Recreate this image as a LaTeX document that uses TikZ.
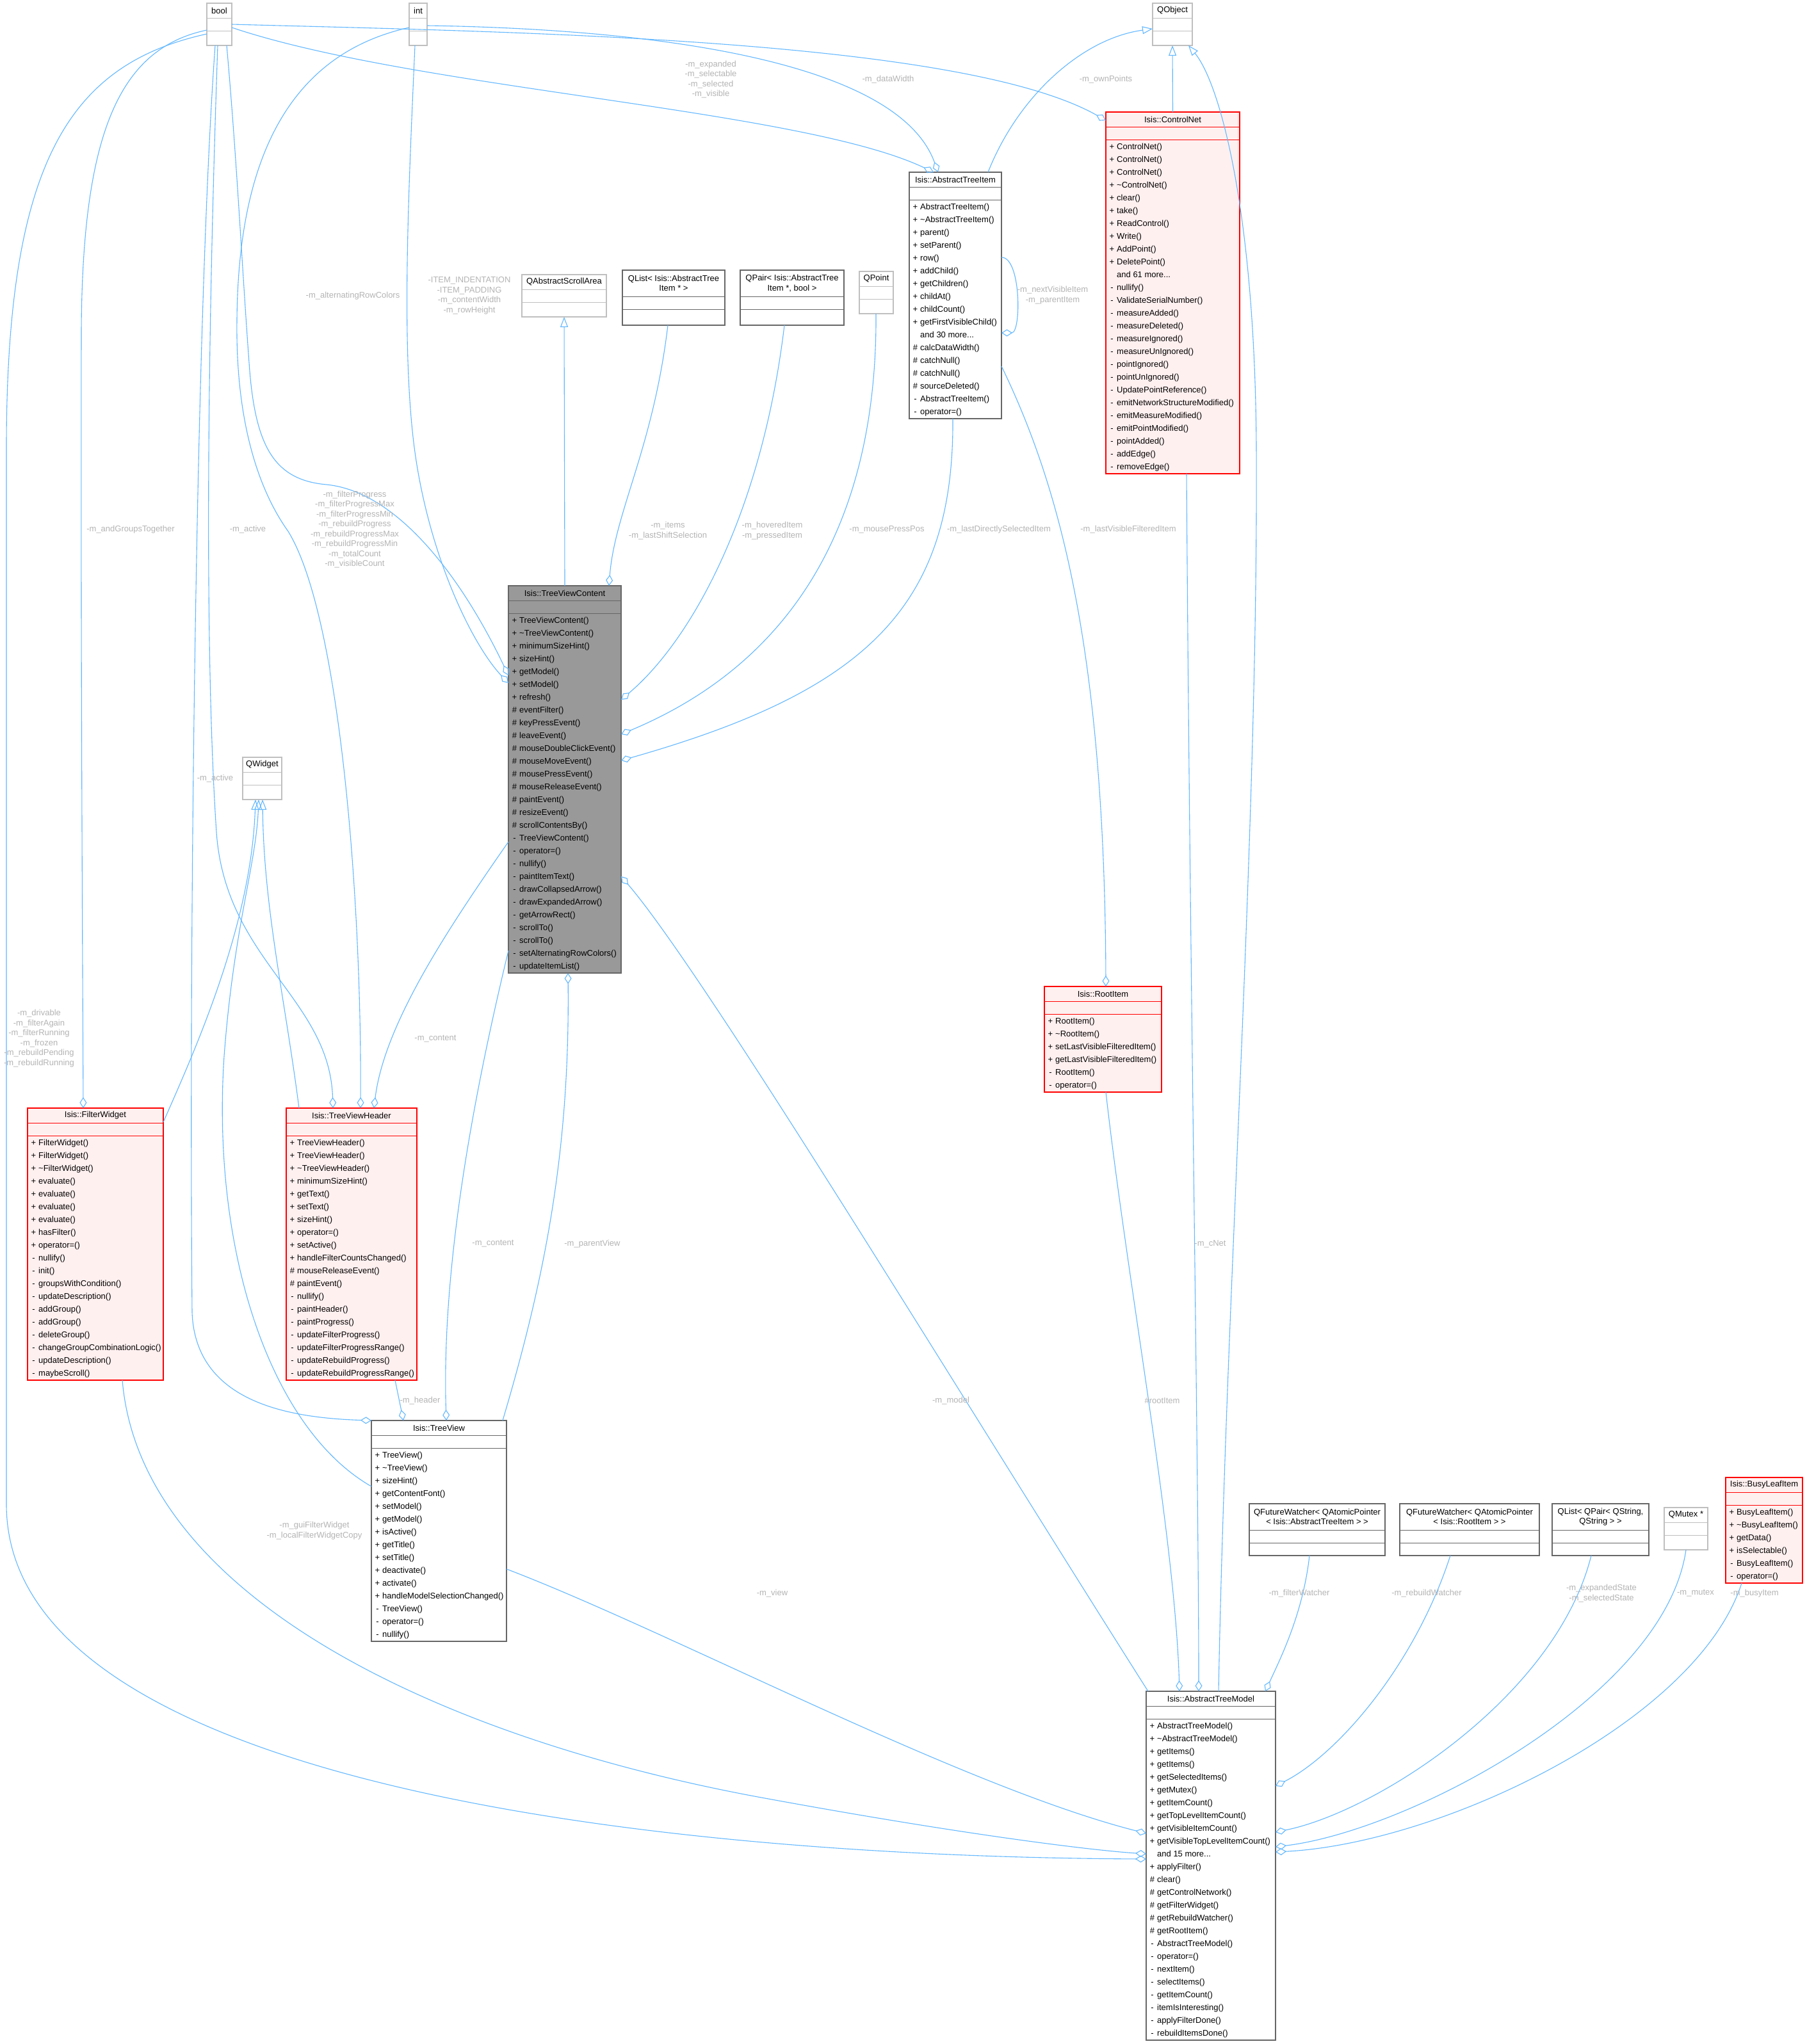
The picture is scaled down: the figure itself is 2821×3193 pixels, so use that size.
\documentclass[tikz,border=0pt]{standalone}
\usepackage{fontspec}
\setmainfont{Liberation Sans}
\usetikzlibrary{arrows.meta}
\definecolor{edgec}{HTML}{63B8FF}
\definecolor{labc}{HTML}{B4B4B4}
\definecolor{redb}{HTML}{FF0000}
\definecolor{redf}{HTML}{FFF0F0}
\definecolor{darkb}{HTML}{666666}
\definecolor{lightb}{HTML}{BFBFBF}
\definecolor{tvcf}{HTML}{999999}
\def\mydots{...}
\tikzset{
  boxbase/.style={line width=1.1pt, inner sep=0pt, outer sep=0pt},
  redbox/.style={boxbase, draw=redb, fill=redf},
  darkbox/.style={boxbase, draw=darkb, fill=white},
  lightbox/.style={boxbase, draw=lightb, fill=white},
  tvcbox/.style={boxbase, draw=darkb, fill=tvcf},
  ttl/.style={inner sep=0pt, align=center, font=\fontsize{13}{15.5}\selectfont},
  mem/.style={inner sep=0pt, anchor=base west, font=\fontsize{13}{20}\selectfont},
  lab/.style={inner sep=0pt, align=center, text=labc, font=\fontsize{13}{15.5}\selectfont},
  edge/.style={draw=edgec, line width=1.1pt},
  agg/.style={edge, -{Diamond[open, length=17pt, width=11pt]}},
  inh/.style={edge, -{Triangle[open, length=16pt, width=12pt]}},
}
% #1 name, #2 x, #3 y, #4 w, #5 h, #6 title height, #7 style, #8 sep colour, #9 title
\newcommand\classbox[9]{%
  \node[#7, minimum width=#4pt, minimum height=#5pt, anchor=north west] (#1) at (#2,#3) {};
  \node[ttl] (#1-t) at (#2+#4/2, #3+#6/2) {#9};
  \draw[draw=#8, line width=0.9pt] ([yshift=-#6pt]#1.north west) -- ([yshift=-#6pt]#1.north east);
  \draw[draw=#8, line width=0.9pt] ([yshift=-#6pt-20pt]#1.north west) -- ([yshift=-#6pt-20pt]#1.north east);
}
% #1 name, #2 x, #3 y, #4 title height, #5 list
\newcommand\members[5]{%
  \foreach \mp/\mn [count=\ri] in {#5} {%
    \node[mem] (#1-r\ri) at (#2+1.5, #3+#4+15.5+20*\ri) {\makebox[15.5pt][c]{\mp}\mn};
  }%
}
\begin{document}
\begin{tikzpicture}[x=1pt,y=-1pt]
\fill[white] (0,0) rectangle (2821,3193);
\useasboundingbox (0,0) rectangle (2821,3193);

% ---------- boxes ----------
\classbox{bool}{323}{5}{39}{66}{23}{lightbox}{lightb}{bool}
\classbox{int}{639}{5}{28}{66}{23}{lightbox}{lightb}{int}
\classbox{qobject}{1800}{5}{62}{66}{23}{lightbox}{lightb}{QObject}
\classbox{qwidget}{379}{1183}{61}{66}{23}{lightbox}{lightb}{QWidget}
\classbox{qasa}{815}{429}{132}{66}{23}{lightbox}{lightb}{QAbstractScrollArea}
\classbox{qlist}{972}{422}{160}{86}{41}{darkbox}{darkb}{QList< Isis::AbstractTree\\Item * >}
\classbox{qpair}{1156}{422}{162}{86}{41}{darkbox}{darkb}{QPair< Isis::AbstractTree\\Item *, bool >}
\classbox{qpoint}{1342}{424}{53}{66}{23}{lightbox}{lightb}{QPoint}
\classbox{ati}{1420}{269}{144}{385}{23}{darkbox}{darkb}{Isis::AbstractTreeItem}
\classbox{cnet}{1727}{175}{209}{565}{23}{redbox}{redb}{Isis::ControlNet}
\classbox{tvc}{794}{915}{176}{605}{23}{tvcbox}{darkb}{Isis::TreeViewContent}
\classbox{root}{1631}{1541}{183}{165}{23}{redbox}{redb}{Isis::RootItem}
\classbox{fw}{43}{1731}{212}{425}{23}{redbox}{redb}{Isis::FilterWidget}
\classbox{tvh}{447}{1731}{204}{425}{23}{redbox}{redb}{Isis::TreeViewHeader}
\classbox{tv}{580}{2219}{211}{345}{23}{darkbox}{darkb}{Isis::TreeView}
\classbox{atm}{1790}{2642}{202}{545}{23}{darkbox}{darkb}{Isis::AbstractTreeModel}
\classbox{qfwa}{1951}{2349}{212}{81}{41}{darkbox}{darkb}{QFutureWatcher< QAtomicPointer\\< Isis::AbstractTreeItem > >}
\classbox{qfwb}{2186}{2349}{218}{81}{41}{darkbox}{darkb}{QFutureWatcher< QAtomicPointer\\< Isis::RootItem > >}
\classbox{qlp}{2424}{2349}{151}{81}{41}{darkbox}{darkb}{QList< QPair< QString,\\QString > >}
\classbox{qmutex}{2599}{2355}{68}{66}{23}{lightbox}{lightb}{QMutex *}
\classbox{busy}{2695}{2308}{120}{165}{23}{redbox}{redb}{Isis::BusyLeafItem}

% ---------- members ----------
\members{ati}{1420}{269}{23}{+/AbstractTreeItem(), +/\textasciitilde AbstractTreeItem(), +/parent(), +/setParent(), +/row(), +/addChild(), +/getChildren(), +/childAt(), +/childCount(), +/getFirstVisibleChild(), \relax/and 30 more\mydots, \#/calcDataWidth(), \#/catchNull(), \#/catchNull(), \#/sourceDeleted(), -/AbstractTreeItem(), -/operator=()}
\members{cnet}{1727}{175}{23}{+/ControlNet(), +/ControlNet(), +/ControlNet(), +/\textasciitilde ControlNet(), +/clear(), +/take(), +/ReadControl(), +/Write(), +/AddPoint(), +/DeletePoint(), \relax/and 61 more\mydots, -/nullify(), -/ValidateSerialNumber(), -/measureAdded(), -/measureDeleted(), -/measureIgnored(), -/measureUnIgnored(), -/pointIgnored(), -/pointUnIgnored(), -/UpdatePointReference(), -/emitNetworkStructureModified(), -/emitMeasureModified(), -/emitPointModified(), -/pointAdded(), -/addEdge(), -/removeEdge()}
\members{tvc}{794}{915}{23}{+/TreeViewContent(), +/\textasciitilde TreeViewContent(), +/minimumSizeHint(), +/sizeHint(), +/getModel(), +/setModel(), +/refresh(), \#/eventFilter(), \#/keyPressEvent(), \#/leaveEvent(), \#/mouseDoubleClickEvent(), \#/mouseMoveEvent(), \#/mousePressEvent(), \#/mouseReleaseEvent(), \#/paintEvent(), \#/resizeEvent(), \#/scrollContentsBy(), -/TreeViewContent(), -/operator=(), -/nullify(), -/paintItemText(), -/drawCollapsedArrow(), -/drawExpandedArrow(), -/getArrowRect(), -/scrollTo(), -/scrollTo(), -/setAlternatingRowColors(), -/updateItemList()}
\members{root}{1631}{1541}{23}{+/RootItem(), +/\textasciitilde RootItem(), +/setLastVisibleFilteredItem(), +/getLastVisibleFilteredItem(), -/RootItem(), -/operator=()}
\members{fw}{43}{1731}{23}{+/FilterWidget(), +/FilterWidget(), +/\textasciitilde FilterWidget(), +/evaluate(), +/evaluate(), +/evaluate(), +/evaluate(), +/hasFilter(), +/operator=(), -/nullify(), -/init(), -/groupsWithCondition(), -/updateDescription(), -/addGroup(), -/addGroup(), -/deleteGroup(), -/changeGroupCombinationLogic(), -/updateDescription(), -/maybeScroll()}
\members{tvh}{447}{1731}{23}{+/TreeViewHeader(), +/TreeViewHeader(), +/\textasciitilde TreeViewHeader(), +/minimumSizeHint(), +/getText(), +/setText(), +/sizeHint(), +/operator=(), +/setActive(), +/handleFilterCountsChanged(), \#/mouseReleaseEvent(), \#/paintEvent(), -/nullify(), -/paintHeader(), -/paintProgress(), -/updateFilterProgress(), -/updateFilterProgressRange(), -/updateRebuildProgress(), -/updateRebuildProgressRange()}
\members{tv}{580}{2219}{23}{+/TreeView(), +/\textasciitilde TreeView(), +/sizeHint(), +/getContentFont(), +/setModel(), +/getModel(), +/isActive(), +/getTitle(), +/setTitle(), +/deactivate(), +/activate(), +/handleModelSelectionChanged(), -/TreeView(), -/operator=(), -/nullify()}
\members{atm}{1790}{2642}{23}{+/AbstractTreeModel(), +/\textasciitilde AbstractTreeModel(), +/getItems(), +/getItems(), +/getSelectedItems(), +/getMutex(), +/getItemCount(), +/getTopLevelItemCount(), +/getVisibleItemCount(), +/getVisibleTopLevelItemCount(), \relax/and 15 more\mydots, +/applyFilter(), \#/clear(), \#/getControlNetwork(), \#/getFilterWidget(), \#/getRebuildWatcher(), \#/getRootItem(), -/AbstractTreeModel(), -/operator=(), -/nextItem(), -/selectItems(), -/getItemCount(), -/itemIsInteresting(), -/applyFilterDone(), -/rebuildItemsDone()}
\members{busy}{2695}{2308}{23}{+/BusyLeafItem(), +/\textasciitilde BusyLeafItem(), +/getData(), +/isSelectable(), -/BusyLeafItem(), -/operator=()}

% ---------- inheritance ----------
\draw[inh] (tvc.north) -- (qasa.south);
\draw[inh] ([shift={(123,0)}]ati.north west) .. controls (1590,150) and (1690,60) .. ([shift={(0,40)}]qobject.north west);
\draw[inh] (cnet.north) -- (qobject.south);
\draw[inh] ([shift={(113,0)}]atm.north west) .. controls (1915,2000) and (1965,1300) .. (1962,700) .. controls (1960,330) and (1905,130) .. ([shift={(56,66)}]qobject.north west);
\draw[inh] ([shift={(212,22)}]fw.north west) .. controls (300,1650) and (392,1450) .. ([shift={(20,66)}]qwidget.north west);
\draw[inh] ([shift={(20,0)}]tvh.north west) .. controls (445,1560) and (412,1420) .. ([shift={(31,66)}]qwidget.north west);
\draw[inh] ([shift={(0,103)}]tv.north west) .. controls (420,2230) and (330,1950) .. (350,1650) .. controls (365,1450) and (400,1350) .. ([shift={(25,66)}]qwidget.north west);

% ---------- aggregation ----------
\draw[agg] ([shift={(39,38)}]bool.north west) .. controls (650,140) and (1250,170) .. ([shift={(38,0)}]ati.north west);
\draw[agg] ([shift={(28,35)}]int.north west) .. controls (1000,45) and (1400,90) .. ([shift={(45,0)}]ati.north west);
\draw[agg] ([shift={(39,33)}]bool.north west) .. controls (800,50) and (1500,60) .. ([shift={(0,13)}]cnet.north west);
\draw[agg] ([shift={(31,66)}]bool.north west) .. controls (370,250) and (378,420) .. (390,580) .. controls (400,700) and (430,750) .. (510,757) .. controls (620,768) and (720,900) .. ([shift={(0,140)}]tvc.north west);
\draw[agg] ([shift={(9,66)}]int.north west) .. controls (638,300) and (625,560) .. (650,720) .. controls (675,880) and (740,1010) .. ([shift={(0,152)}]tvc.north west);
\draw[agg] ([shift={(0,38)}]int.north west) .. controls (450,85) and (372,250) .. (370,500) .. controls (368,650) and (400,760) .. (450,830) .. controls (530,960) and (565,1400) .. ([shift={(116,0)}]tvh.north west);
\draw[agg] ([shift={(17,66)}]bool.north west) .. controls (325,500) and (318,1000) .. (338,1300) .. controls (352,1500) and (515,1560) .. ([shift={(73,0)}]tvh.north west);
\draw[agg] ([shift={(0,42)}]bool.north west) .. controls (190,75) and (128,200) .. (127,520) .. controls (126,1000) and (129,1500) .. ([shift={(87,0)}]fw.north west);
\draw[agg] ([shift={(0,48)}]bool.north west) .. controls (110,100) and (10,250) .. (10,700) .. controls (10,1500) and (10,1900) .. (10,2350) .. controls (10,2780) and (1000,2900) .. ([shift={(0,262)}]atm.north west);
\draw[agg] ([shift={(148,425)}]fw.north west) .. controls (220,2500) and (700,2720) .. (1200,2810) .. controls (1500,2865) and (1700,2890) .. ([shift={(0,254)}]atm.north west);
\draw[agg] ([shift={(211,232)}]tv.north west) .. controls (1050,2550) and (1500,2790) .. ([shift={(0,222)}]atm.north west);
\draw[agg] ([shift={(3,0)}]atm.north west) .. controls (1500,2180) and (1100,1520) .. ([shift={(176,454)}]tvc.north west);
\draw[agg] ([shift={(96,165)}]root.north west) .. controls (1760,2000) and (1835,2400) .. ([shift={(52,0)}]atm.north west);
\draw[agg] ([shift={(126,565)}]cnet.north west) .. controls (1858,1500) and (1872,2300) .. ([shift={(82,0)}]atm.north west);
\draw[agg] ([shift={(94,81)}]qfwa.north west) .. controls (2035,2520) and (2000,2590) .. ([shift={(186,0)}]atm.north west);
\draw[agg] ([shift={(79,81)}]qfwb.north west) .. controls (2210,2600) and (2090,2740) .. ([shift={(202,148)}]atm.north west);
\draw[agg] ([shift={(61,81)}]qlp.north west) .. controls (2430,2650) and (2150,2830) .. ([shift={(202,220)}]atm.north west);
\draw[agg] ([shift={(34,66)}]qmutex.north west) .. controls (2600,2650) and (2200,2860) .. ([shift={(202,243)}]atm.north west);
\draw[agg] ([shift={(25,165)}]busy.north west) .. controls (2650,2690) and (2250,2880) .. ([shift={(202,251)}]atm.north west);
\draw[agg] ([shift={(144,303)}]ati.north west) .. controls (1650,750) and (1725,1000) .. ([shift={(96,0)}]root.north west);
\draw[agg] ([shift={(68,385)}]ati.north west) .. controls (1490,950) and (1350,1080) .. ([shift={(176,273)}]tvc.north west);
\draw[agg] ([shift={(26,66)}]qpoint.north west) .. controls (1370,800) and (1250,1030) .. ([shift={(176,232)}]tvc.north west);
\draw[agg] ([shift={(69,86)}]qpair.north west) .. controls (1190,800) and (1080,1000) .. ([shift={(176,178)}]tvc.north west);
\draw[agg] ([shift={(71,86)}]qlist.north west) .. controls (1020,700) and (960,800) .. ([shift={(157,0)}]tvc.north west);
\draw[agg] ([shift={(0,400)}]tvc.north west) .. controls (700,1450) and (600,1600) .. ([shift={(137,0)}]tvh.north west);
\draw[agg] ([shift={(0,570)}]tvc.north west) .. controls (730,1750) and (690,2000) .. ([shift={(117,0)}]tv.north west);
\draw[agg] ([shift={(205,0)}]tv.north west) .. controls (850,2000) and (890,1800) .. ([shift={(93,605)}]tvc.north west);
\draw[agg] ([shift={(170,425)}]tvh.north west) -- ([shift={(50,0)}]tv.north west);
\draw[agg] ([shift={(13,66)}]bool.north west) .. controls (305,500) and (295,1500) .. (300,2050) .. controls (305,2190) and (450,2215) .. (tv.north west);
\draw[agg] ([shift={(144,133)}]ati.north west) .. controls (1595,402) and (1595,520) .. ([shift={(144,251)}]ati.north west);

% ---------- labels ----------
\node[lab] (l1) at (1110,124) {-m\_expanded\\-m\_selectable\\-m\_selected\\-m\_visible};
\node[lab] (l2) at (1387,124) {-m\_dataWidth};
\node[lab] (l3) at (1727,124) {-m\_ownPoints};
\node[lab] (l4) at (733,462) {-ITEM\_INDENTATION\\-ITEM\_PADDING\\-m\_contentWidth\\-m\_rowHeight};
\node[lab] (l5) at (551,462) {-m\_alternatingRowColors};
\node[lab] (l6) at (554,827) {-m\_filterProgress\\-m\_filterProgressMax\\-m\_filterProgressMin\\-m\_rebuildProgress\\-m\_rebuildProgressMax\\-m\_rebuildProgressMin\\-m\_totalCount\\-m\_visibleCount};
\node[lab] (l7) at (204,827) {-m\_andGroupsTogether};
\node[lab] (l8) at (387,827) {-m\_active};
\node[lab] (l9) at (336,1216) {-m\_active};
\node[lab] (l10) at (1043,829) {-m\_items\\-m\_lastShiftSelection};
\node[lab] (l11) at (1206,829) {-m\_hoveredItem\\-m\_pressedItem};
\node[lab] (l12) at (1385,827) {-m\_mousePressPos};
\node[lab] (l13) at (1560,827) {-m\_lastDirectlySelectedItem};
\node[lab] (l14) at (1762,827) {-m\_lastVisibleFilteredItem};
\node[lab] (l15) at (1644,461) {-m\_nextVisibleItem\\-m\_parentItem};
\node[lab] (l16) at (61,1622) {-m\_drivable\\-m\_filterAgain\\-m\_filterRunning\\-m\_frozen\\-m\_rebuildPending\\-m\_rebuildRunning};
\node[lab] (l17) at (680,1623) {-m\_content};
\node[lab] (l18) at (770,1943) {-m\_content};
\node[lab] (l19) at (925,1943) {-m\_parentView};
\node[lab] (l20) at (656,2188) {-m\_header};
\node[lab] (l21) at (1485,2188) {-m\_model};
\node[lab] (l22) at (1815,2188) {\#rootItem};
\node[lab] (l23) at (1890,1943) {-m\_cNet};
\node[lab] (l24) at (491,2391) {-m\_guiFilterWidget\\-m\_localFilterWidgetCopy};
\node[lab] (l25) at (1206,2489) {-m\_view};
\node[lab] (l26) at (2029,2489) {-m\_filterWatcher};
\node[lab] (l27) at (2228,2489) {-m\_rebuildWatcher};
\node[lab] (l28) at (2501,2489) {-m\_expandedState\\-m\_selectedState};
\node[lab] (l29) at (2648,2489) {-m\_mutex};
\node[lab] (l30) at (2740,2489) {-m\_busyItem};
\end{tikzpicture}
\end{document}
